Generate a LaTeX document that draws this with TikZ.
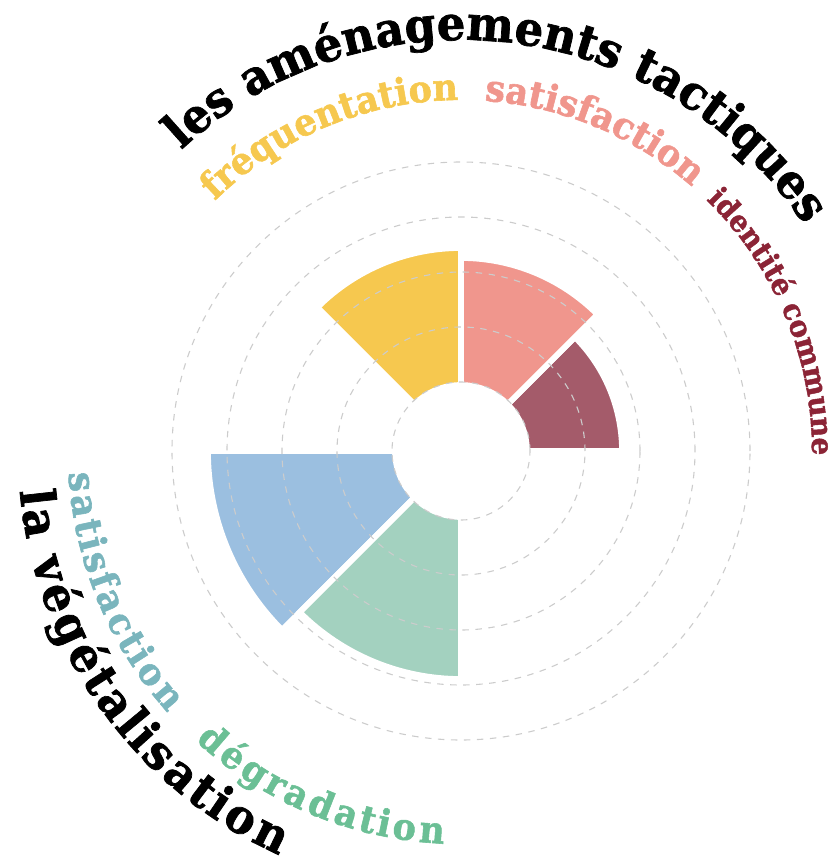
\documentclass[tikz,border=0pt]{standalone}
\usepackage{fontspec}
\usetikzlibrary{decorations.text}
\newfontfamily\slab{DejaVu Serif}[FakeStretch=0.94, BoldFeatures={FakeBold=1.5}]
\newcommand{\titre}{\slab\bfseries\fontsize{47.6}{54}\selectfont}
\newcommand{\sous}{\slab\bfseries\fontsize{37.2}{42}\selectfont}
\newcommand{\petit}{\slab\bfseries\fontsize{29.6}{34}\selectfont}
\definecolor{jaune}{HTML}{F6C84F}
\definecolor{rose}{HTML}{F0968D}
\definecolor{bordeaux}{HTML}{A45B6A}
\definecolor{bleu}{HTML}{9BBFE0}
\definecolor{vert}{HTML}{A3D1BF}
\definecolor{bordeauxtexte}{HTML}{8B2436}
\definecolor{sarcelle}{HTML}{7AB5BD}
\definecolor{verttexte}{HTML}{6BBF95}
\definecolor{grille}{HTML}{CCCCCC}
\tikzset{
  cercle/.style={draw=grille, line width=1.1pt, dash pattern=on 6.5pt off 6.5pt},
  tranche/.style={fill=#1, draw=white, line width=5.7pt},
  legende/.style={decorate, decoration={text along path, text align=center, raise=#1}},
  legende/.default=0pt,
  titrearc/.style={decorate, decoration={text along path, text align=left, raise=#1}},
  titrearc/.default=0pt
}
\begin{document}
\begin{tikzpicture}[x=1pt, y=1pt]
	\useasboundingbox (-461,-414) rectangle (375,451);
	
	%Secteurs
	\path[tranche=bordeaux] (0:66) arc[start angle=0, end angle=45, radius=66] -- (45:161) arc[start angle=45, end angle=0, radius=161] -- cycle;
	\path[tranche=rose] (45:66) arc[start angle=45, end angle=90, radius=66] -- (90:193) arc[start angle=90, end angle=45, radius=193] -- cycle;
	\path[tranche=jaune] (90:66) arc[start angle=90, end angle=135, radius=66] -- (135:203) arc[start angle=135, end angle=90, radius=203] -- cycle;
	\path[tranche=bleu] (180:66) arc[start angle=180, end angle=225, radius=66] -- (225:253) arc[start angle=225, end angle=180, radius=253] -- cycle;
	\path[tranche=vert] (225:66) arc[start angle=225, end angle=270, radius=66] -- (270:228) arc[start angle=270, end angle=225, radius=228] -- cycle;
	
	%Grille
	\foreach \r in {69,124,179,234,289}
		\draw[cercle] (0,0) circle (\r);
	
	%Titres
	\path[titrearc, decoration={text={|\titre|les aménagements tactiques}}] (132.9:411) arc[start angle=132.9, end angle=-20, radius=411];
	\path[titrearc=-55pt, decoration={text={|\titre|la végétalisation}}] (185:388) arc[start angle=185, end angle=300, radius=388];
	
	%Legendes
	\path[legende, decoration={text={|\sous\color{jaune}|fréquentation}}] (152.5:351) arc[start angle=152.5, end angle=72.5, radius=351];
	\path[legende, decoration={text={|\sous\color{rose}|satisfaction}}] (107.5:351) arc[start angle=107.5, end angle=27.5, radius=351];
	\path[legende, decoration={text={|\petit\color{bordeauxtexte}|identité commune}}] (62.5:351) arc[start angle=62.5, end angle=-17.5, radius=351];
	\path[legende=-58pt, decoration={text={|\sous\color{sarcelle}|satisfaction}}] (162.5:335) arc[start angle=162.5, end angle=242.5, radius=335];
	\path[legende=-58pt, decoration={text={|\sous\color{verttexte}|dégradation}}] (207.5:335) arc[start angle=207.5, end angle=287.5, radius=335];
\end{tikzpicture}
\end{document}
